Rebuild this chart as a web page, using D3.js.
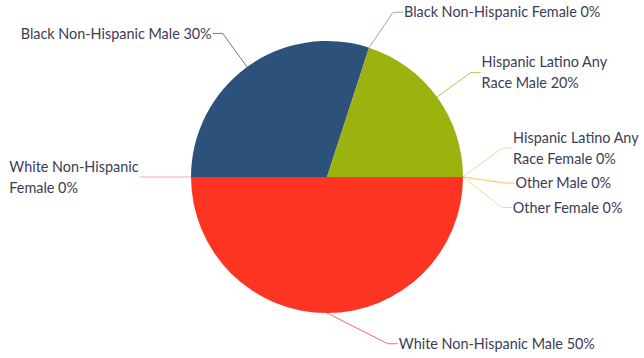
<!DOCTYPE html>
<html><head><meta charset="utf-8">
<script src="https://cdn.jsdelivr.net/npm/d3@7"></script>
<style>html,body{margin:0;padding:0;background:#fff;overflow:hidden}svg{display:block}</style>
</head><body>
<svg id="chart" width="644" height="358"></svg>
<script>
// ---- data ----
const categories = [
  "Black Non-Hispanic Male",
  "Black Non-Hispanic Female",
  "Hispanic Latino Any Race Male",
  "Hispanic Latino Any Race Female",
  "Other Male",
  "Other Female",
  "White Non-Hispanic Male",
  "White Non-Hispanic Female"
];
const percentages = [30, 0, 20, 0, 0, 0, 50, 0];
const sliceColors = ["#2c517a", "#6d8fb8", "#9bb20f", "#c9d874", "#f0b024", "#f2cf7c", "#fe3422", "#ff8a8a"];

// ---- layout ----
const W = 644, H = 358;
const cx = 327, cy = 177, r = 136;
const labelR = 177.5;
const fontFamily = "Lato, 'DejaVu Sans', sans-serif";
const fontSize = 14.4, lineH = 21, slotPad = 3.5;
const textColor = "#3c3c55";
const clusterShift = 4.5;
const rightMargin = 4, leftMargin = 4;

const svg = d3.select("#chart");

const pie = d3.pie().sort(null).value(d => d.value)
  .startAngle(-Math.PI / 2).endAngle(3 * Math.PI / 2);
const data = categories.map((c, i) => ({ name: c, value: percentages[i], color: sliceColors[i] }));
const arcs = pie(data);
const arc = d3.arc().innerRadius(0).outerRadius(r);

const g = svg.append("g");
g.selectAll("path.slice").data(arcs).join("path")
  .attr("class", "slice")
  .attr("transform", `translate(${cx},${cy})`)
  .attr("d", arc)
  .attr("fill", d => d.data.color);

// measuring helper
const meas = svg.append("text").attr("font-family", fontFamily).attr("font-size", fontSize).attr("visibility", "hidden");
function tw(s) { meas.text(s); return meas.node().getComputedTextLength(); }

function wrap(str, maxW) {
  const words = str.split(" ");
  const lines = [];
  let cur = "";
  words.forEach(w => {
    const t = cur ? cur + " " + w : w;
    if (cur && tw(t) > maxW) { lines.push(cur); cur = w; } else cur = t;
  });
  if (cur) lines.push(cur);
  return lines;
}

// label items
const items = arcs.map(a => {
  const mid = (a.startAngle + a.endAngle) / 2;
  const norm = ((mid % (2 * Math.PI)) + 2 * Math.PI) % (2 * Math.PI);
  const right = norm <= Math.PI + 1e-9;
  return {
    a, mid, right,
    text: `${a.data.name} ${d3.format("d")(a.data.value)}%`,
    target: cy - labelR * Math.cos(mid)
  };
});

function breakX(it, y) {
  const dy = y - cy;
  const dx = Math.sqrt(Math.max(0, labelR * labelR - dy * dy));
  return it.right ? cx + dx : cx - dx;
}

function computeLines(it, y) {
  const bx = breakX(it, y);
  const avail = it.right ? W - (bx + 11) - rightMargin : (bx - 11) - leftMargin;
  it.lines = wrap(it.text, avail);
  it.size = it.lines.length * lineH + slotPad;
}

function distribute(list) {
  list.sort((p, q) => p.target - q.target);
  const minY = 0, maxY = 356;
  let clusters = list.map(it => ({ items: [it], size: it.size, sum: it.target, n: 1 }));
  const place = c => {
    const center = c.sum / c.n - (c.n > 1 ? clusterShift : 0);
    c.top = Math.max(minY, Math.min(maxY - c.size, center - c.size / 2));
  };
  clusters.forEach(place);
  let merged = true;
  while (merged) {
    merged = false;
    for (let i = 0; i < clusters.length - 1; i++) {
      const p = clusters[i], q = clusters[i + 1];
      if (p.top + p.size > q.top + 0.01) {
        p.items = p.items.concat(q.items); p.size += q.size; p.sum += q.sum; p.n += q.n;
        clusters.splice(i + 1, 1); place(p); merged = true; break;
      }
    }
  }
  clusters.forEach(c => { let t = c.top; c.items.forEach(it => { it.y = t + it.size / 2; t += it.size; }); });
}

items.forEach(it => computeLines(it, it.target));
for (let pass = 0; pass < 2; pass++) {
  distribute(items.filter(d => d.right));
  distribute(items.filter(d => !d.right));
  items.forEach(it => computeLines(it, it.y));
}

// draw connectors and labels
const lg = svg.append("g");
items.forEach(it => {
  const ex = cx + r * Math.sin(it.mid), ey = cy - r * Math.cos(it.mid);
  const bx = breakX(it, it.y);
  const lx = it.right ? bx + 10 : bx - 10;
  lg.append("path")
    .attr("d", `M${ex},${ey}L${bx},${it.y}L${lx},${it.y}`)
    .attr("fill", "none")
    .attr("stroke", it.a.data.color)
    .attr("stroke-opacity", 0.75)
    .attr("stroke-width", 1);

  const maxW = d3.max(it.lines, l => tw(l));
  const tx = it.right ? bx + 11 : bx - 11 - maxW;
  const n = it.lines.length;
  const t = lg.append("text")
    .attr("font-family", fontFamily).attr("font-size", fontSize)
    .attr("fill", textColor);
  it.lines.forEach((l, k) => {
    t.append("tspan").attr("x", tx)
      .attr("y", it.y + (k - (n - 1) / 2) * lineH + fontSize * 0.36)
      .text(l);
  });
});
</script>
</body></html>
